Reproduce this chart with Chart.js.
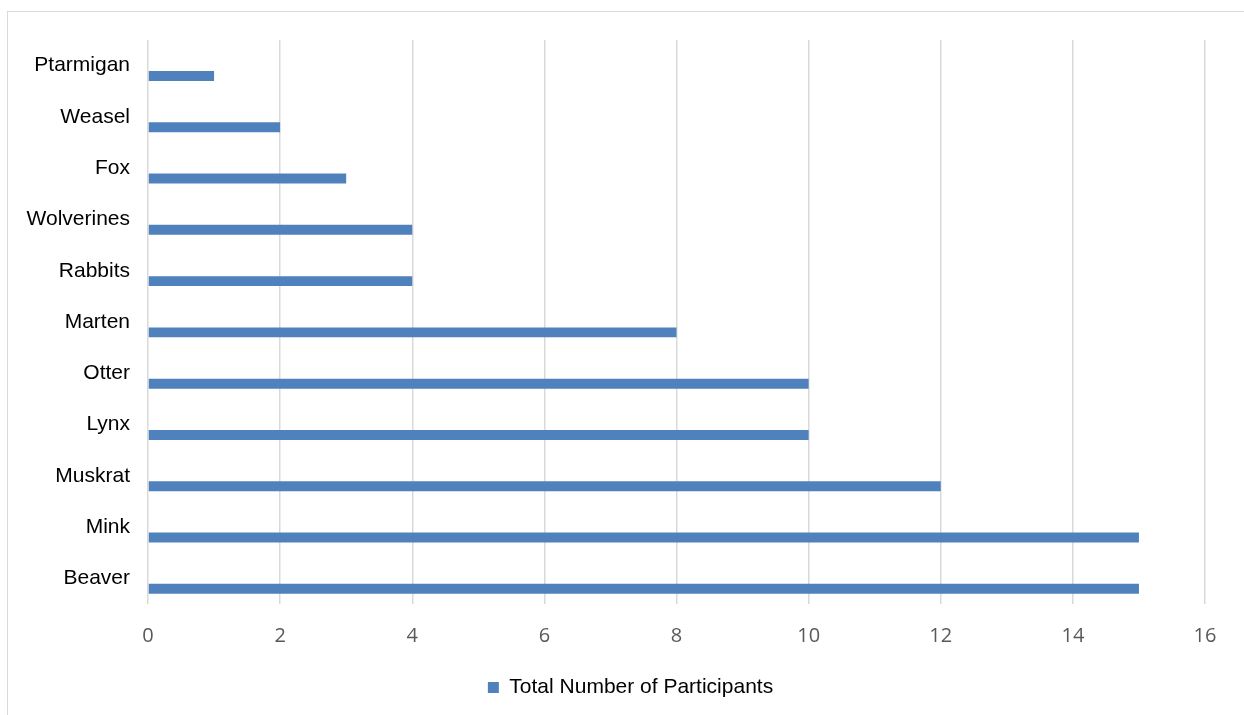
<!DOCTYPE html>
<html>
<head>
<meta charset="utf-8">
<script src="https://cdn.jsdelivr.net/npm/chart.js@4.4.0/dist/chart.umd.min.js"></script>
<style>
  html, body { margin: 0; padding: 0; background: #ffffff; overflow: hidden; }
  #wrap { position: relative; width: 1244px; height: 715px; }
  #frame { position: absolute; left: 7px; top: 11px; width: 1260px; height: 720px;
           border: 1px solid #d9d9d9; box-sizing: border-box; }
  #c { position: absolute; left: 0; top: 0; }
</style>
</head>
<body>
<div id="wrap">
  <div id="frame"></div>
  <canvas id="c" width="1244" height="715"></canvas>
</div>
<script>
// Species trapped, top to bottom
const species = ['Ptarmigan', 'Weasel', 'Fox', 'Wolverines', 'Rabbits', 'Marten',
                 'Otter', 'Lynx', 'Muskrat', 'Mink', 'Beaver'];
// Total number of participants per species
const participants = [1, 2, 3, 4, 4, 8, 10, 10, 12, 15, 15];
// Empty companion series that keeps the upper half of each band free
const spacer = species.map(() => null);
// Value axis range
const xMin = 0;
const xMax = 16;
const xStep = 2;

const barColor = '#4F81BD';
const gridColor = '#d9d9d9';

// Centre the legend under the whole frame rather than under the axes box
const legendShift = {
  id: 'legendShift',
  beforeDraw(chart) {
    if (chart.legend) {
      chart.legend.left = 56;
    }
  }
};

new Chart(document.getElementById('c'), {
  type: 'bar',
  data: {
    labels: species,
    datasets: [
      {
        label: 'spacer',
        data: spacer,
        backgroundColor: 'rgba(0,0,0,0)',
        borderWidth: 0,
        categoryPercentage: 0.81,
        barPercentage: 0.48
      },
      {
        label: 'Total Number of Participants',
        data: participants,
        backgroundColor: barColor,
        borderWidth: 0,
        categoryPercentage: 0.81,
        barPercentage: 0.48
      }
    ]
  },
  plugins: [legendShift],
  options: {
    indexAxis: 'y',
    responsive: false,
    animation: false,
    layout: { padding: { top: 40, right: 39, bottom: 7, left: 0 } },
    plugins: {
      tooltip: { enabled: false },
      title: { display: false },
      legend: {
        position: 'bottom',
        labels: {
          filter: (item) => item.text !== 'spacer',
          boxWidth: 11,
          boxHeight: 11,
          padding: 10,
          color: '#000000',
          font: { family: 'Liberation Sans, Arial, sans-serif', size: 21 }
        }
      }
    },
    scales: {
      x: {
        min: xMin,
        max: xMax,
        ticks: {
          stepSize: xStep,
          color: '#595959',
          padding: 20,
          font: { family: 'Open Sans, sans-serif', size: 20 }
        },
        grid: { color: gridColor, lineWidth: 1.5, drawTicks: false },
        border: { display: false },
        afterFit: (scale) => { scale.height = 63; }
      },
      y: {
        ticks: {
          color: '#000000',
          padding: 18,
          font: { family: 'Liberation Sans, Arial, sans-serif', size: 21 }
        },
        grid: { display: false, drawTicks: false },
        border: { display: false },
        afterFit: (scale) => { scale.width = 148; }
      }
    }
  }
});
</script>
</body>
</html>
